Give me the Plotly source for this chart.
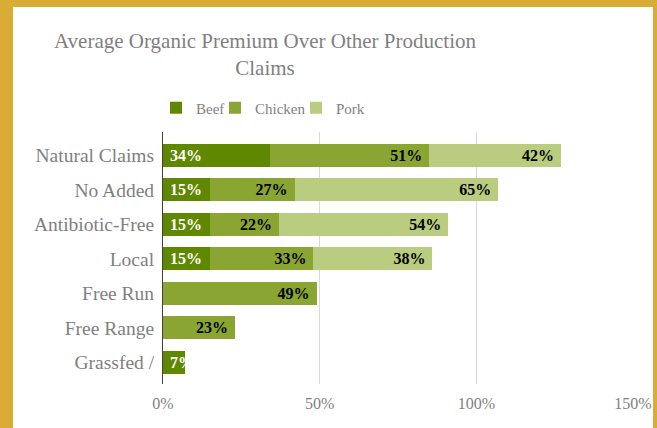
import plotly.graph_objects as go

categories = ["Natural Claims", "No Added", "Antibiotic-Free", "Local", "Free Run", "Free Range", "Grassfed /"]
beef = [34, 15, 15, 15, None, None, 7]
chicken = [51, 27, 22, 33, 49, 23, None]
pork = [42, 65, 54, 38, None, None, None]
x_ticks = [0, 50, 100, 150]

# name, values, colour, label colour, label anchor, legend id, legend text x (px)
series = [("Beef", beef, "#5F8700", "white", "start", "legend", 196),
          ("Chicken", chicken, "#8AA532", "black", "end", "legend2", 255),
          ("Pork", pork, "#B9CC7F", "black", "end", "legend3", 336)]

FONT = "'Liberation Serif', 'Times New Roman', serif"
GRAY = "#7F7F7F"
NB = "\u00a0"
W, H = 657, 428

fig = go.Figure()
legends = {}
for name, vals, color, tcolor, anchor, lg, tx in series:
    if anchor == "start":
        labels = [f"{NB}{v}%" if v is not None else "" for v in vals]
    else:
        labels = [f"{v}%{NB}" if v is not None else "" for v in vals]
    fig.add_trace(go.Bar(
        y=categories, x=vals, name=name, orientation="h", legend=lg,
        marker=dict(color=color, line=dict(width=0)),
        text=labels, textangle=0,
        textposition="inside", insidetextanchor=anchor, constraintext="none",
        textfont=dict(family=FONT, size=16, color=tcolor, weight="bold"),
        hoverinfo="skip",
    ))
    legends[lg] = dict(orientation="h", xref="container", yref="container",
                       x=(tx - 40) / W, xanchor="left", y=1 - 108 / H, yanchor="middle",
                       font=dict(size=15, color=GRAY, family=FONT),
                       itemwidth=30, bgcolor="rgba(0,0,0,0)", borderwidth=0)

fig.update_layout(
    width=W, height=H, barmode="stack", bargap=0.333,
    paper_bgcolor="#D9AC35", plot_bgcolor="white",
    margin=dict(l=163, r=24, t=132, b=44, autoexpand=False),
    font=dict(family=FONT, color=GRAY),
    title=dict(text="Average Organic Premium Over Other Production<br>Claims",
               x=265 / W, xanchor="center", xref="container",
               y=1 - 48 / H, yanchor="top", yref="container",
               font=dict(size=21, color=GRAY, family=FONT)),
    showlegend=True,
    shapes=[dict(type="rect", xref="paper", yref="paper", layer="below",
                 x0=-(163 - 13) / 470, x1=1 + (653 - 633) / 470,
                 y0=-(44 + 5) / 252, y1=1 + (132 - 7) / 252,
                 fillcolor="white", line=dict(width=0))],
    **legends,
)
fig.update_xaxes(range=[0, 150], tickvals=x_ticks, ticktext=[f"{v}%" for v in x_ticks],
                 showgrid=True, gridcolor="#D9D9D9", gridwidth=1, zeroline=False,
                 showline=False, tickfont=dict(size=16, color=GRAY, family=FONT),
                 ticks="", ticklabelstandoff=8, automargin=False)
fig.update_yaxes(range=[6.63, -0.675], showline=True, linecolor="#404040", linewidth=1,
                 showgrid=False, tickfont=dict(size=19.5, color=GRAY, family=FONT),
                 ticks="", ticklabelstandoff=4, automargin=False)

fig.write_html("out.html", config={"displayModeBar": False},
               post_script="document.body.style.margin='0';")
